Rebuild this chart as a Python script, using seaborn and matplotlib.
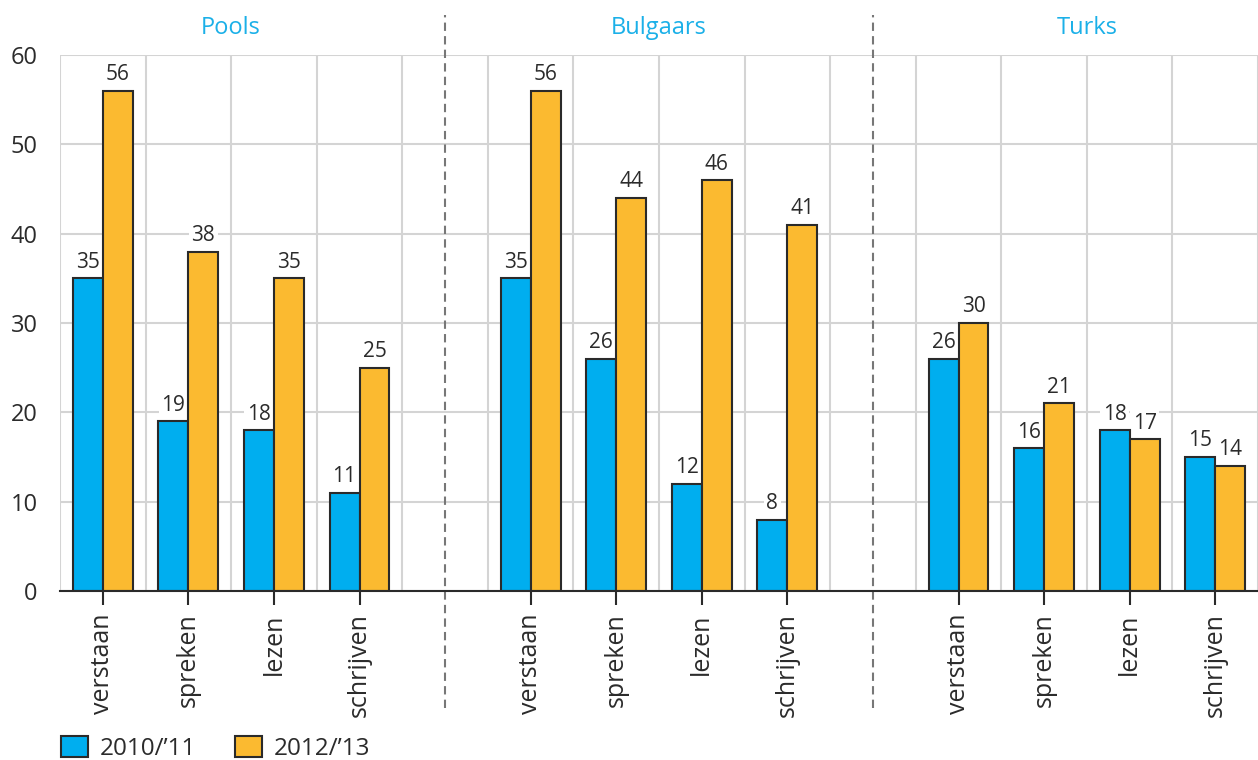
import numpy as np
import pandas as pd
import matplotlib
matplotlib.use("Agg")
import matplotlib.pyplot as plt
import seaborn as sns

groups = ["Pools", "Bulgaars", "Turks"]
skills = ["verstaan", "spreken", "lezen", "schrijven"]
years = ["2010/\u201911", "2012/\u201913"]
pools_2010 = [35, 19, 18, 11]
pools_2012 = [56, 38, 35, 25]
bulgaars_2010 = [35, 26, 12, 8]
bulgaars_2012 = [56, 44, 46, 41]
turks_2010 = [26, 16, 18, 15]
turks_2012 = [30, 21, 17, 14]
yticks = [0, 10, 20, 30, 40, 50, 60]

values = {
    "Pools": (pools_2010, pools_2012),
    "Bulgaars": (bulgaars_2010, bulgaars_2012),
    "Turks": (turks_2010, turks_2012),
}

rows = []
for g in groups:
    for yi, yr in enumerate(years):
        for s, v in zip(skills, values[g][yi]):
            rows.append({"slot": f"{g}|{s}", "year": yr, "value": v})
df = pd.DataFrame(rows)

order = []
for gi, g in enumerate(groups):
    order += [f"{g}|{s}" for s in skills]
    if gi < len(groups) - 1:
        order.append(f"gap{gi}")

sns.set_theme(style="white")
plt.rcParams["font.family"] = ["Open Sans", "DejaVu Sans"]
text_col = "#2b2b2b"
blue = "#00AEEF"
orange = "#FBBA30"
edge = "#2a2a2a"

fig = plt.figure(figsize=(12.58, 7.60), dpi=100)
ax = fig.add_axes([60 / 1258, 1 - 591 / 760, 1198 / 1258, 536 / 760])

sns.barplot(data=df, x="slot", y="value", hue="year", order=order,
            hue_order=years, palette={years[0]: blue, years[1]: orange},
            saturation=1, width=0.7, edgecolor=edge, linewidth=1.5, ax=ax,
            legend=False, zorder=3)

ax.set_xlim(-0.5, 13.41)
ax.set_ylim(0, 60)
ax.set_yticks(yticks)
ax.set_yticklabels([str(v) for v in yticks], fontsize=17, color=text_col)
ax.tick_params(axis="y", length=0, pad=16)

tick_pos = [i for i, o in enumerate(order) if not o.startswith("gap")]
ax.set_xticks(tick_pos)
ax.set_xticklabels([order[i].split("|")[1] for i in tick_pos], rotation=90,
                   fontsize=18, color=text_col)
ax.tick_params(axis="x", length=10, width=1.5, color=edge, pad=6, bottom=True)
ax.set_xticks(np.arange(-0.5, 14, 1), minor=True)
ax.tick_params(axis="x", which="minor", length=0)

ax.set_axisbelow(True)
ax.grid(axis="y", which="major", color="#d4d4d4", lw=1.5)
ax.grid(axis="x", which="major", visible=False)
ax.grid(axis="x", which="minor", color="#d4d4d4", lw=1.5)

for sp in ["top", "right", "left"]:
    ax.spines[sp].set_visible(False)
ax.spines["bottom"].set_color(edge)
ax.spines["bottom"].set_linewidth(1.5)
ax.spines["bottom"].set_zorder(4)
ax.set_xlabel("")
ax.set_ylabel("")

for cont in ax.containers:
    ax.bar_label(cont, fmt="%g", padding=4, fontsize=15, color=text_col,
                 bbox=dict(facecolor="white", edgecolor="none", pad=2),
                 zorder=2.5)

gap_pos = [i for i, o in enumerate(order) if o.startswith("gap")]
ax.vlines(gap_pos, -13.1, 64.5, colors="#777777", linestyles=(0, (4, 2.5)),
          lw=1.5, clip_on=False, zorder=2)

for gi, g in enumerate(groups):
    pos = [i for i, o in enumerate(order) if o.startswith(g + "|")]
    ax.text(np.mean(pos), 63.0, g, ha="center", va="center", fontsize=17,
            color="#1BB0E8", clip_on=False)

handles = [c.patches[0] for c in ax.containers]
fig.legend(handles, years, loc="lower left", bbox_to_anchor=(0.031, -0.03),
           ncol=2, frameon=False, fontsize=17.5, handlelength=1.1,
           handleheight=0.9, handletextpad=0.5, columnspacing=1.6,
           labelcolor=text_col)

fig.savefig("out.png", dpi=100)
